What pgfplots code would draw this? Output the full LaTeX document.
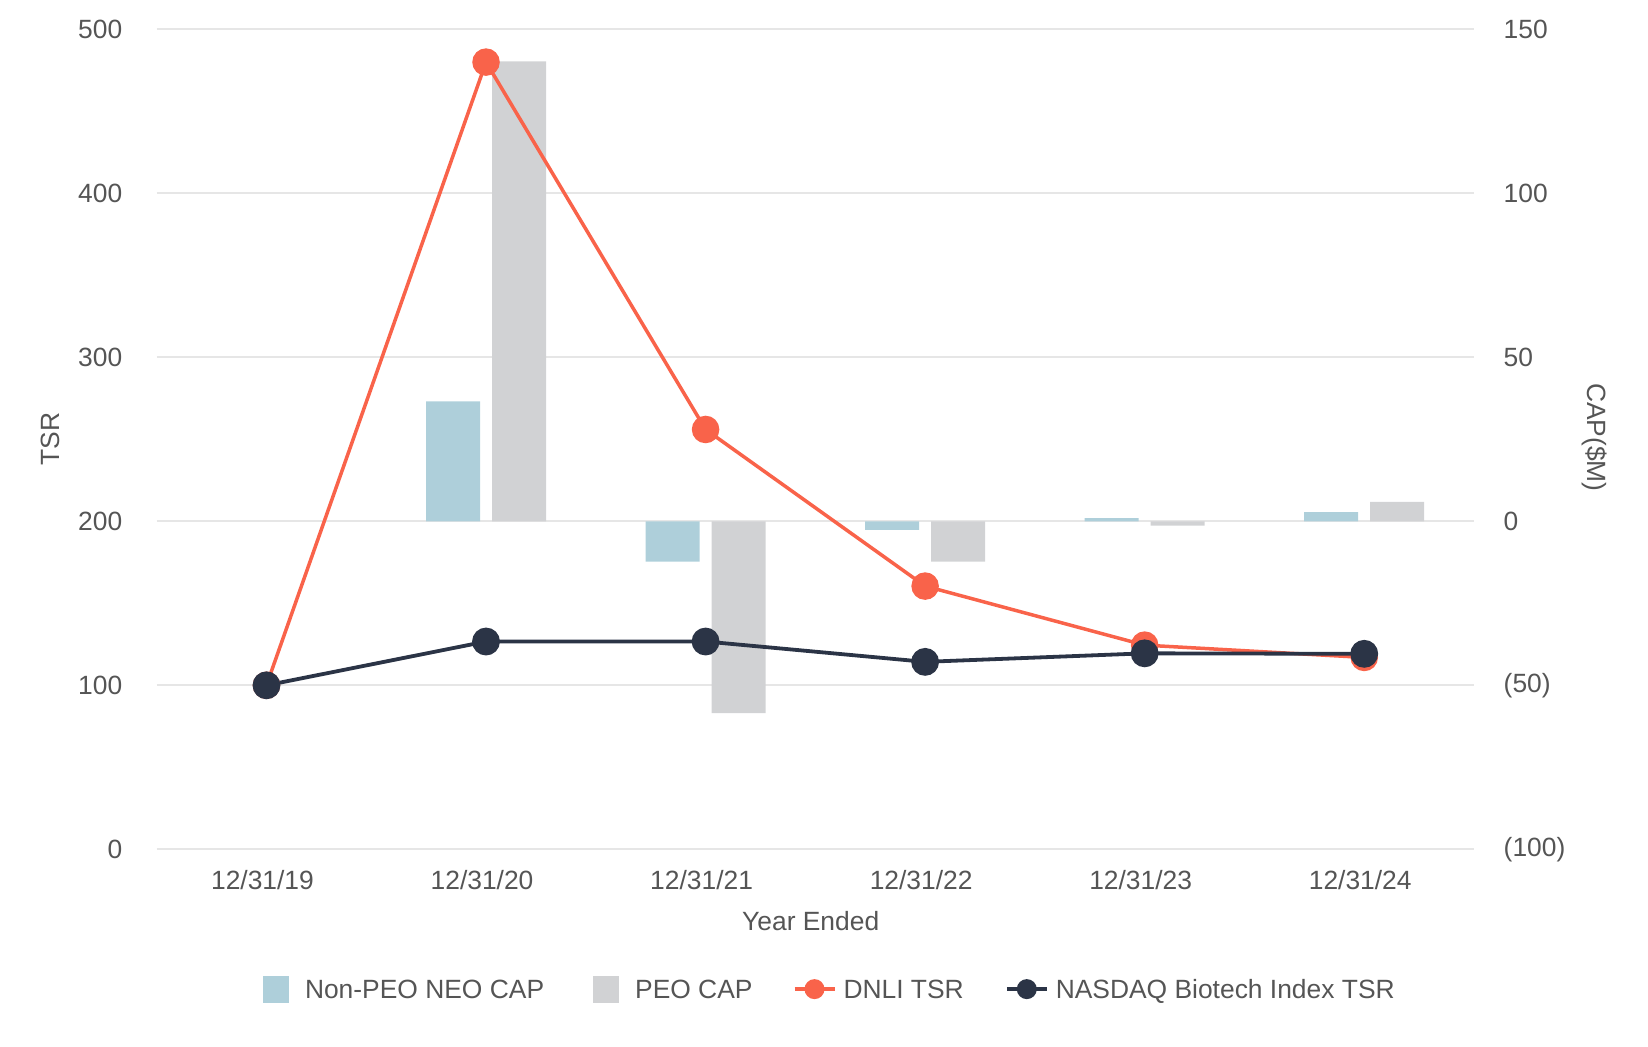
\documentclass[border=0pt]{standalone}
\usepackage{fontspec}
\setmainfont{Liberation Sans}
\usepackage{pgfplots}
\usepackage{pgfplotstable}
\pgfplotsset{compat=1.18}
\definecolor{npblue}{HTML}{AECFDA}
\definecolor{peogrey}{HTML}{D1D2D4}
\definecolor{dnli}{HTML}{F9634A}
\definecolor{navy}{HTML}{2B3446}
\definecolor{gridc}{HTML}{E6E6E6}
\definecolor{txt}{HTML}{555555}
\newcommand{\fsz}{\fontsize{13.2}{15.8}\selectfont}

\pgfplotstableread{
x np peo
1 36.6 140.2
2 -12.3 -58.5
3 -2.6 -12.3
4 1.0 -1.3
5 2.8 5.9
}\captable

\pgfplotstableread{
x dnli nasdaq
0 100 100
1 480 126.7
2 256 126.7
3 160.5 114.3
4 124.5 119.5
5 117 119.2
}\tsrtable

\begin{document}
\begin{tikzpicture}
\useasboundingbox (-78.35pt,-98.35pt) rectangle (745.65pt,424.65pt);
\pgfplotsset{
  common/.style={
    at={(0pt,0pt)}, anchor=south west, scale only axis,
    width=658.65pt, height=410pt,
    xmin=-0.5, xmax=5.5,
    axis line style={draw=none}, major tick length=0pt, tick style={draw=none},
    /pgf/number format/assume math mode=true,
    ticklabel style={font=\fsz, text=txt, inner sep=0pt},
  }
}
\begin{axis}[common,
  ymin=-100, ymax=150,
  ytick={-100,-50,0,50,100,150},
  yticklabels={(100),(50),0,50,100,150},
  yticklabel pos=right,
  yticklabel style={anchor=west, xshift=14.65pt},
  ymajorgrids, grid style={gridc, line width=1pt},
  xtick={0,1,2,3,4,5},
  xticklabels={12/31/19,12/31/20,12/31/21,12/31/22,12/31/23,12/31/24},
  xticklabel style={anchor=base, yshift=-20pt, xshift=-2pt},
]
\addplot[ybar, bar width=27pt, bar shift=-16.5pt, fill=npblue, draw=none] table[x=x,y=np]{\captable};
\addplot[ybar, bar width=27pt, bar shift=16.5pt, fill=peogrey, draw=none] table[x=x,y=peo]{\captable};
\end{axis}
\begin{axis}[common,
  ymin=0, ymax=500, ytick={0,100,200,300,400,500},
  yticklabel style={anchor=east, xshift=-17pt},
  xtick=\empty,
  legend columns=4,
  legend style={at={(axis description cs:0.0807,-0.1705)}, anchor=west, draw=none, fill=none,
    inner sep=0pt, outer sep=0pt, column sep=0pt, row sep=0pt, font=\fsz, text=txt,
    cells={anchor=west}, nodes={inner sep=0pt, text height=9.45pt, text depth=0pt}},
]
\addlegendimage{legend image code/.code={\path[draw=none, fill=npblue] (0pt,-6.75pt) rectangle (13pt,6.75pt); \path[draw=none, fill=none] (0pt,0pt) -- (21pt,0pt);}}
\addlegendentry{Non-PEO NEO CAP}
\addlegendimage{legend image code/.code={\path[draw=none, fill=peogrey] (0pt,-6.75pt) rectangle (13pt,6.75pt); \path[draw=none, fill=none] (-24.5pt,0pt) -- (21pt,0pt);}}
\addlegendentry{PEO CAP}
\addplot[dnli, line width=1.75pt, mark=*, mark size=6pt, mark options={solid, fill=dnli, draw=none},
  legend image code/.code={\draw[dnli, line width=1.75pt] (0pt,0pt) -- (20pt,0pt); \path[draw=none, fill=dnli] (10pt,0pt) circle (5pt); \path[draw=none, fill=none] (-21pt,0pt) -- (24.5pt,0pt);}]
  table[x=x,y=dnli]{\tsrtable};
\addlegendentry{DNLI TSR}
\addplot[navy, line width=1.9pt, mark=*, mark size=6pt, mark options={solid, fill=navy, draw=none},
  legend image code/.code={\draw[navy, line width=1.75pt] (0pt,0pt) -- (20pt,0pt); \path[draw=none, fill=navy] (10pt,0pt) circle (5pt); \path[draw=none, fill=none] (-21.5pt,0pt) -- (24.5pt,0pt);}]
  table[x=x,y=nasdaq]{\tsrtable};
\addlegendentry{NASDAQ Biotech Index TSR}
\end{axis}
\node[rotate=90, font=\fsz, text=txt, inner sep=0pt] at (-52.9pt,205pt) {TSR};
\node[rotate=-90, font=\fsz, text=txt, inner sep=0pt] at (719.15pt,205.9pt) {CAP(\$M)};
\node[anchor=base, font=\fsz, text=txt, inner sep=0pt] at (327pt,-40.6pt) {Year Ended};
\end{tikzpicture}
\end{document}
